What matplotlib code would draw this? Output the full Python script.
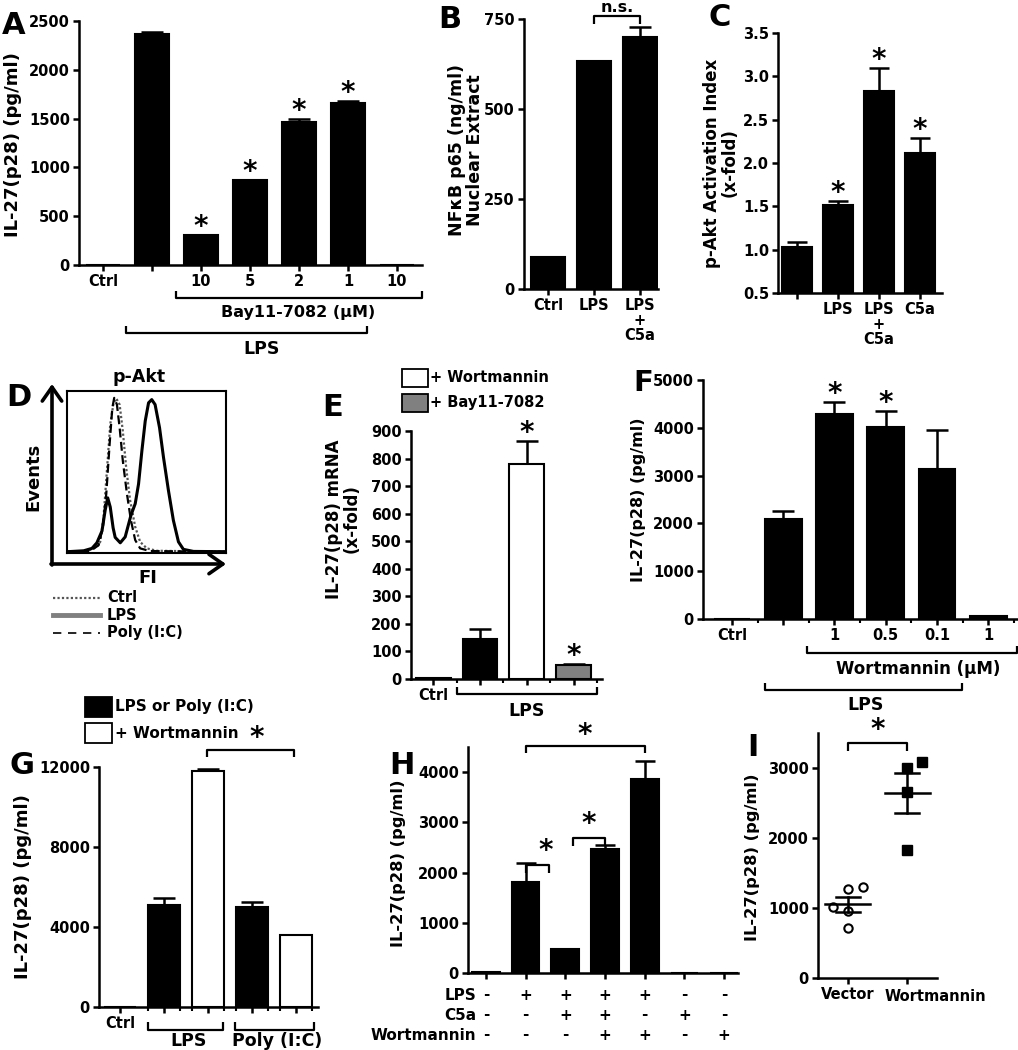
import numpy as np
import matplotlib
matplotlib.use('Agg')
import matplotlib.pyplot as plt
from matplotlib.transforms import Affine2D, blended_transform_factory as btf
from matplotlib.patches import Rectangle, FancyArrowPatch

W, H = 1018, 1050
DPI = 100
plt.rcParams['font.family'] = ['DejaVu Sans']
plt.rcParams['font.weight'] = 'bold'
plt.rcParams['axes.linewidth'] = 1.8
plt.rcParams['xtick.major.width'] = 1.8
plt.rcParams['ytick.major.width'] = 1.8
plt.rcParams['xtick.minor.width'] = 1.5
plt.rcParams['xtick.major.size'] = 4.5
plt.rcParams['ytick.major.size'] = 4.5
plt.rcParams['xtick.minor.size'] = 3
plt.rcParams['xtick.labelsize'] = 10.5
plt.rcParams['ytick.labelsize'] = 10.5

# ---------------- data ----------------
A_labels = ['Ctrl', '', '10', '5', '2', '1', '10']
A_vals = [5, 2362, 303, 866, 1463, 1663, 5]
A_err = [0, 25, 8, 4, 28, 15, 0]
A_star = [2, 3, 4, 5]

B_labels = ['Ctrl', 'LPS', 'LPS\n+\nC5a']
B_vals = [88, 634, 699]
B_err = [0, 0, 28]

C_labels = ['', 'LPS', 'LPS\n+\nC5a', 'C5a']
C_vals = [1.03, 1.51, 2.83, 2.12]
C_err = [0.06, 0.05, 0.27, 0.17]
C_star = [1, 2, 3]

# D: flow histograms (FI in % of axis range, Events in % of max)
D_ctrl_x = [0, 12.6, 18.8, 20.9, 23.0, 25.1, 27.2, 29.3, 31.0, 33.1, 35.1, 37.2, 39.7, 42.9, 46.0, 50.2, 56.5, 100]
D_ctrl_y = [0, 0.4, 3.1, 6.2, 21.8, 50.8, 79.9, 93.4, 96.1, 92.3, 75.7, 52.9, 32.2, 15.6, 6.2, 2.1, 0.6, 0]
D_poly_x = [0, 14.6, 19.9, 22.6, 24.7, 26.8, 28.5, 29.7, 31.4, 33.1, 35.1, 37.7, 40.2, 42.9, 46.0, 52.3, 100]
D_poly_y = [0, 0.4, 4.1, 15.6, 36.3, 67.4, 90.2, 96.5, 92.3, 77.8, 57.1, 36.3, 19.7, 7.3, 2.1, 0.4, 0]
D_lps_x = [0, 10.5, 15.7, 18.8, 22.0, 24.0, 25.6, 27.2, 29.0, 30.3, 33.5, 36.6, 40.2, 42.9, 45.0, 47.1, 49.2,
           51.3, 53.3, 55.4, 58.2, 60.7, 63.8, 66.9, 70.1, 73.2, 79.5, 100]
D_lps_y = [0, 0.6, 2.1, 5.6, 13.0, 26.0, 33.8, 28.0, 15.0, 9.0, 5.6, 9.3, 22.8, 30.1, 42.5, 63.3, 82.0,
           93.4, 95.4, 92.3, 77.8, 59.1, 38.4, 19.7, 6.2, 1.5, 0.2, 0]

E_labels = ['Ctrl', '', '', '']
E_vals = [2, 144, 779, 50]
E_err = [0, 37, 86, 4]
E_colors = ['black', 'black', 'white', '#808080']
E_star = [2, 3]

F_labels = ['Ctrl', '', '1', '0.5', '0.1', '1']
F_vals = [10, 2089, 4283, 4011, 3148, 56]
F_err = [0, 161, 257, 348, 807, 0]
F_star = [2, 3]

G_labels = ['Ctrl', '', '', '', '']
G_vals = [10, 5086, 11800, 5003, 3607]
G_err = [0, 382, 80, 250, 0]
G_colors = ['black', 'black', 'white', 'black', 'white']

H_vals = [10, 1805, 470, 2460, 3868, 8, 8]
H_err = [0, 380, 0, 85, 363, 0, 0]
H_LPS = ['-', '+', '+', '+', '+', '-', '-']
H_C5a = ['-', '-', '+', '+', '-', '+', '-']
H_Wort = ['-', '-', '-', '+', '+', '-', '+']

I_labels = ['Vector', 'Wortmannin']
I_vector = [1018, 1266, 1304, 956, 717]
I_vector_jit = [-0.25, 0, 0.25, 0, 0]
I_wort = [2996, 3091, 2661, 1825]
I_wort_jit = [0, 0.25, 0, 0]

# ---------------- helpers ----------------
fig = plt.figure(figsize=(W / DPI, H / DPI), dpi=DPI)
pxT = Affine2D().scale(1 / W, -1 / H).translate(0, 1) + fig.transFigure


def add_ax(l, t, r, b):
    ax = fig.add_axes([l / W, 1 - b / H, (r - l) / W, (b - t) / H])
    for s in ['top', 'right']:
        ax.spines[s].set_visible(False)
    ax.tick_params(direction='out', pad=2)
    return ax


def bars(ax, vals, errs, width, colors='black', capsize=8):
    x = np.arange(len(vals))
    ax.bar(x, vals, width, color=colors, edgecolor='black', linewidth=1.5, zorder=2)
    ax.errorbar(x, vals, yerr=[np.zeros(len(vals)), errs], fmt='none', ecolor='black',
                elinewidth=1.8, capsize=capsize, capthick=1.8, zorder=1)
    ax.set_xticks(x)
    return x


def stars(ax, idx, vals, errs, off=0, size=20):
    for i in idx:
        ax.annotate('*', (i, vals[i] + errs[i]), xytext=(0, off), textcoords='offset pixels',
                    ha='center', va='baseline', fontsize=size, fontweight='bold',
                    annotation_clip=False)


def bracket(ax, x0, x1, y, tip, lw=1.6):
    ax.plot([x0, x0, x1, x1], [y + tip, y, y, y + tip], color='black', lw=lw,
            transform=btf(ax.transData, pxT), clip_on=False, solid_capstyle='butt')


def btext(ax, x, y, s, size=12.5, **kw):
    ax.text(x, y, s, transform=btf(ax.transData, pxT), ha=kw.pop('ha', 'center'),
            va=kw.pop('va', 'center'), fontsize=size, fontweight='bold', **kw)


def ftext(x, y, s, size=12.5, **kw):
    fig.text(x / W, 1 - y / H, s, ha=kw.pop('ha', 'center'), va='center', fontsize=size,
             fontweight='bold', **kw)


def letter(x, y, s):
    ftext(x, y, s, size=22)


# ---------------- A ----------------
ax = add_ax(79, 21, 422, 265)
x = bars(ax, A_vals, A_err, 0.71)
ax.set_xlim(-0.49, 6.51)
ax.set_ylim(0, 2500)
ax.set_yticks(range(0, 2501, 500))
ax.set_xticklabels(A_labels)
stars(ax, A_star, A_vals, A_err)
bracket(ax, 1.49, 6.5, 298, -7)
btext(ax, 3.98, 313, 'Bay11-7082 (μM)', size=11.5)
bracket(ax, 0.47, 5.39, 333, -7)
btext(ax, 3.24, 349, 'LPS')
ftext(13, 145, 'IL-27(p28) (pg/ml)', size=13, rotation=90)
letter(14, 25, 'A')

# ---------------- B ----------------
ax = add_ax(524, 19, 658, 289)
x = bars(ax, B_vals, B_err, 0.74)
ax.set_xlim(-0.52, 2.39)
ax.set_ylim(0, 750)
ax.set_yticks([0, 250, 500, 750])
ax.set_xticklabels(B_labels, linespacing=1.0, va='top')
bracket(ax, 1, 2, 16, 8)
btext(ax, 1.5, 7, 'n.s.', size=11.5)
ftext(466, 150, 'NFκB p65 (ng/ml)\nNuclear Extract', size=12.5, rotation=90, linespacing=1.0)
letter(450, 20, 'B')

# ---------------- C ----------------
ax = add_ax(778, 33, 942, 293)
x = bars(ax, C_vals, C_err, 0.73, capsize=7)
ax.set_xlim(-0.46, 3.54)
ax.set_ylim(0.5, 3.5)
ax.set_yticks(np.arange(0.5, 3.51, 0.5))
ax.set_yticklabels(['%.1f' % v for v in np.arange(0.5, 3.51, 0.5)])
ax.set_xticklabels(C_labels, linespacing=1.0, va='top')
stars(ax, C_star, C_vals, C_err)
ftext(721, 163, 'p-Akt Activation Index\n(x-fold)', size=12, rotation=90, linespacing=1.0)
letter(720, 18, 'C')

# ---------------- D ----------------
ax = fig.add_axes([67 / W, 1 - 553 / H, (226 - 67) / W, (553 - 391) / H])
for s in ax.spines.values():
    s.set_linewidth(1.5)
ax.set_xticks([])
ax.set_yticks([])
ax.plot(D_ctrl_x, D_ctrl_y, color='#555555', lw=1.6, ls=(0, (1, 1)))
ax.plot(D_poly_x, D_poly_y, color='black', lw=1.6, ls=(0, (4, 2)))
ax.plot(D_lps_x, D_lps_y, color='black', lw=2.2)
ax.set_xlim(0, 100)
ax.set_ylim(-0.8, 100.8)
for p0, p1 in [((52, 565), (52, 384)), ((51, 564), (226, 564))]:
    fig.add_artist(FancyArrowPatch(p0, p1, transform=pxT, arrowstyle='->,head_length=0.5,head_width=0.35',
                                   mutation_scale=20, lw=2.6, color='black', shrinkA=0, shrinkB=0))
ftext(139, 377, 'p-Akt', size=12.5)
ftext(33, 477, 'Events', size=13, rotation=90)
ftext(148, 578, 'FI', size=13)
lg = [('Ctrl', dict(color='#555555', lw=1.6, ls=(0, (1, 1)))),
      ('LPS', dict(color='#808080', lw=3.5, ls='-')),
      ('Poly (I:C)', dict(color='black', lw=1.2, ls=(0, (5, 4))))]
for (name, st), yy in zip(lg, [598, 615, 633]):
    fig.add_artist(plt.Line2D([53 / W, 100 / W], [1 - yy / H, 1 - yy / H], transform=fig.transFigure, **st))
    ftext(107, yy, name, size=10.5, ha='left')
letter(19, 398, 'D')

# ---------------- E ----------------
ax = add_ax(411, 431, 602, 679)
x = bars(ax, E_vals, E_err, 0.745, colors=E_colors)
ax.set_xlim(-0.47, 3.6)
ax.set_ylim(0, 900)
ax.set_yticks(range(0, 901, 100))
ax.set_xticklabels(E_labels)
ax.set_xticks(np.arange(0.5, 3.6, 1), minor=True)
stars(ax, E_star, E_vals, E_err)
bracket(ax, 0.5, 3.5, 694, -7)
btext(ax, 2.0, 711, 'LPS')
ftext(343, 519, 'IL-27(p28) mRNA\n(x-fold)', size=12, rotation=90, linespacing=1.0)
for (name, col), yy in zip([('+ Wortmannin', 'white'), ('+ Bay11-7082', '#808080')], [378, 403]):
    fig.add_artist(Rectangle((402, yy - 9), 26, 18, transform=pxT, facecolor=col, edgecolor='black', lw=1.3))
    ftext(430, yy, name, size=10.5, ha='left')
letter(333, 407, 'E')

# ---------------- F ----------------
ax = add_ax(703, 380, 1017, 619)
x = bars(ax, F_vals, F_err, 0.72)
ax.set_xlim(-0.565, 5.56)
ax.set_ylim(0, 5000)
ax.set_yticks(range(0, 5001, 1000))
ax.set_xticklabels(F_labels)
ax.set_xticks(np.arange(0.5, 5.6, 1), minor=True)
stars(ax, F_star, F_vals, F_err)
bracket(ax, 1.46, 5.56, 653, -7)
btext(ax, 3.63, 669, 'Wortmannin (μM)', size=12)
bracket(ax, 0.64, 4.48, 690, -7)
btext(ax, 2.6, 705, 'LPS')
ftext(639, 500, 'IL-27(p28) (pg/ml)', size=11.5, rotation=90)
ftext(643, 383, 'F', size=21)

# ---------------- G ----------------
ax = add_ax(99, 767, 318, 1007)
x = bars(ax, G_vals, G_err, 0.73, colors=G_colors)
ax.set_xlim(-0.48, 4.5)
ax.set_ylim(0, 12000)
ax.set_yticks([0, 4000, 8000, 12000])
ax.set_xticklabels(G_labels)
edges = np.concatenate([x[1:] - 0.365, x[1:] + 0.365])
ax.set_xticks(edges, minor=True)
bracket(ax, 0.64, 2.34, 1030, -8)
btext(ax, 1.55, 1041, 'LPS')
bracket(ax, 2.61, 4.41, 1030, -8)
btext(ax, 3.57, 1041, 'Poly (I:C)')
bracket(ax, 1.98, 3.95, 750, 7)
btext(ax, 3.1, 738, '*', size=20)
ftext(23, 887, 'IL-27(p28) (pg/ml)', size=13, rotation=90)
for (name, col), yy in zip([('LPS or Poly (I:C)', 'black'), ('+ Wortmannin', 'white')], [707, 733]):
    fig.add_artist(Rectangle((85, yy - 10), 27, 20, transform=pxT, facecolor=col, edgecolor='black', lw=1.3))
    ftext(115, yy, name, size=11, ha='left')
letter(22, 765, 'G')

# ---------------- H ----------------
ax = add_ax(468, 747, 738, 973)
x = bars(ax, H_vals, H_err, 0.7, capsize=7)
ax.set_xlim(-0.45, 6.35)
ax.set_ylim(0, 4500)
ax.set_yticks(range(0, 4001, 1000))
ax.set_xticklabels([''] * len(x))
for row, signs, yy in [('LPS', H_LPS, 995), ('C5a', H_C5a, 1015), ('Wortmannin', H_Wort, 1035)]:
    btext(ax, -0.25, yy, row, size=11, ha='right')
    for i, s in enumerate(signs):
        btext(ax, i, yy, s, size=11)
bracket(ax, 1, 4, 746, 7)
btext(ax, 2.5, 735, '*', size=20)
bracket(ax, 1, 1.6, 865, 8)
btext(ax, 1.5, 851, '*', size=20)
bracket(ax, 2.2, 3, 838, 8)
btext(ax, 2.6, 824, '*', size=20)
ftext(398, 863, 'IL-27(p28) (pg/ml)', size=11.7, rotation=90)
letter(402, 765, 'H')

# ---------------- I ----------------
ax = add_ax(818, 733, 937, 978)
ax.set_xlim(-0.5, 1.5)
ax.set_ylim(0, 3500)
ax.set_yticks(range(0, 3001, 1000))
ax.set_xticks([0, 1])
ax.set_xticklabels([I_labels[0], ''], fontsize=10.5)
btext(ax, 1.48, 989, I_labels[1], size=10.5, va='top')
ax.plot(np.array(I_vector_jit) + 0, I_vector, 'o', mfc='white', mec='black', mew=1.5, ms=6, zorder=3)
ax.plot(np.array(I_wort_jit) + 1, I_wort, 's', mfc='black', mec='black', ms=7, zorder=3)
for i, d in enumerate([I_vector, I_wort]):
    d = np.array(d, float)
    m = d.mean()
    se = d.std(ddof=1) / np.sqrt(len(d))
    ax.plot([i - 0.38, i + 0.38], [m, m], color='black', lw=1.8, zorder=4)
    ax.plot([i, i], [m - se, m + se], color='black', lw=1.8, zorder=4)
    for yv in (m - se, m + se):
        ax.plot([i - 0.2, i + 0.2], [yv, yv], color='black', lw=1.8, zorder=4)
bracket(ax, 0, 1, 743, 8)
btext(ax, 0.5, 730, '*', size=20)
ftext(753, 857, 'IL-27(p28) (pg/ml)', size=11.7, rotation=90)
letter(753, 748, 'I')

fig.savefig('out.png', dpi=DPI)
